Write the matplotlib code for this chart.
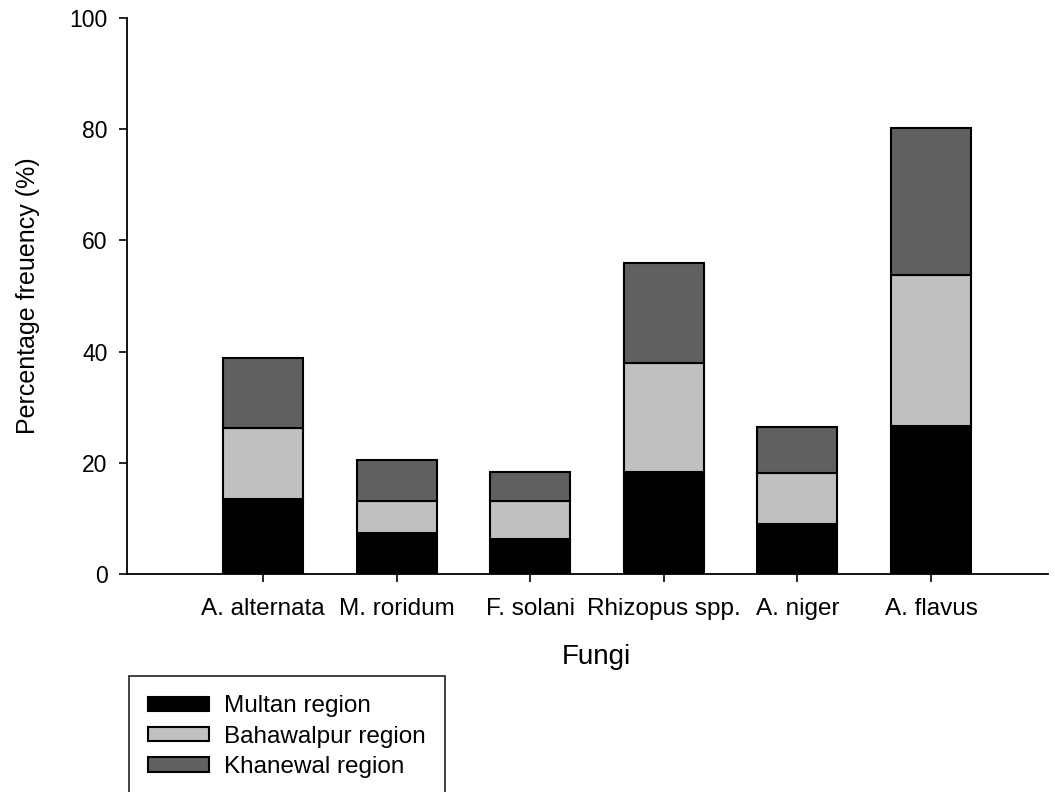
import numpy as np
import matplotlib
matplotlib.use("Agg")
import matplotlib.pyplot as plt

plt.rcParams['font.family'] = ['Liberation Sans', 'DejaVu Sans']

fungi = ['A. alternata', 'M. roridum', 'F. solani', 'Rhizopus spp.', 'A. niger', 'A. flavus']
multan = [13.5, 7.4, 6.3, 18.3, 9.0, 26.6]
bahawalpur = [12.8, 5.7, 6.8, 19.6, 9.2, 27.2]
khanewal = [12.5, 7.4, 5.2, 18.0, 8.2, 26.4]

colors = ['#000000', '#c0c0c0', '#606060']
labels = ['Multan region', 'Bahawalpur region', 'Khanewal region']

fig = plt.figure(figsize=(10.55, 7.92), dpi=100)
ax = fig.add_axes([0.1204, 0.2753, 0.873, 0.702])

x = np.arange(len(fungi))
bottom = np.zeros(len(fungi))
handles = []
for vals, c, lab in zip([multan, bahawalpur, khanewal], colors, labels):
    b = ax.bar(x, vals, width=0.6, bottom=bottom, color=c, edgecolor='black',
               linewidth=1.5, label=lab)
    handles.append(b)
    bottom += np.array(vals)

ax.set_xlim(-1.018, 5.876)
ax.set_ylim(0, 100)
ax.set_yticks([0, 20, 40, 60, 80, 100])
ax.set_xticks(x)
ax.set_xticklabels(fungi)
ax.spines['top'].set_visible(False)
ax.spines['right'].set_visible(False)
for s in ['left', 'bottom']:
    ax.spines[s].set_linewidth(1.3)
ax.tick_params(axis='both', direction='out', length=6, width=1.2)
ax.tick_params(axis='y', pad=8, labelsize=16.5)
ax.tick_params(axis='x', pad=11, labelsize=17.5)

ax.set_xlabel('Fungi', fontsize=20)
ax.xaxis.set_label_coords(0.510, -0.126)
ax.set_ylabel('Percentage freuency (%)', fontsize=18, labelpad=21)

leg = fig.legend(handles=handles, labels=labels, loc='upper left',
                 bbox_to_anchor=(129 / 1055, 1 - 676 / 792),
                 bbox_transform=fig.transFigure, fontsize=17.5,
                 frameon=True, fancybox=False, borderaxespad=0,
                 borderpad=0.8, handlelength=2.5, handleheight=0.55,
                 handletextpad=0.6, labelspacing=0.34)
leg.get_frame().set_edgecolor('black')
leg.get_frame().set_linewidth(1.3)
for p in leg.get_patches():
    p.set_linewidth(1.5)

fig.savefig('out.png', dpi=100)
